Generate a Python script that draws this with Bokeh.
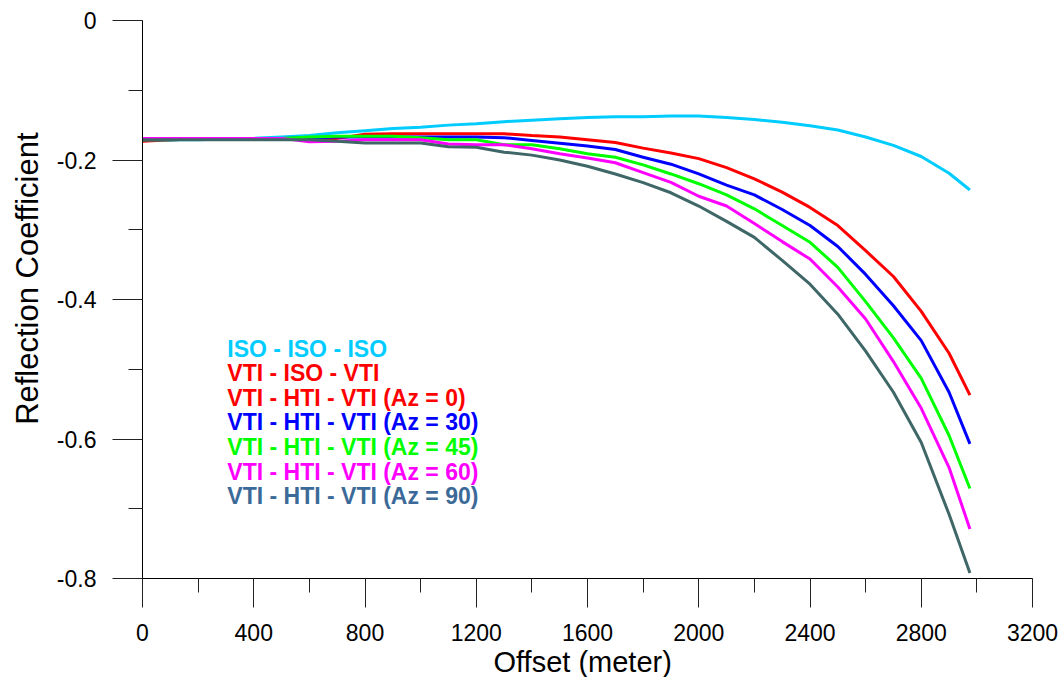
from bokeh.plotting import figure
from bokeh.models import Range1d, SingleIntervalTicker, Label, Title, CustomJSTickFormatter
from bokeh.embed import file_html
from bokeh.resources import INLINE

# ---------------- data ----------------
offset = [0, 100, 200, 300, 400, 500, 600, 700, 800, 900,
          1000, 1100, 1200, 1300, 1400, 1500, 1600, 1700, 1800, 1900,
          2000, 2100, 2200, 2300, 2400, 2500, 2600, 2700, 2800, 2900, 2975]

iso_iso_iso = [-0.171, -0.171, -0.171, -0.170, -0.169, -0.167, -0.165, -0.161, -0.158, -0.155,
               -0.153, -0.150, -0.148, -0.145, -0.143, -0.141, -0.139, -0.138, -0.138, -0.137,
               -0.137, -0.139, -0.142, -0.146, -0.151, -0.157, -0.167, -0.179, -0.195, -0.219, -0.243]

vti_iso_vti = [-0.173, -0.171, -0.170, -0.170, -0.170, -0.169, -0.169, -0.169, -0.163, -0.1625,
               -0.1625, -0.1625, -0.1625, -0.1625, -0.165, -0.167, -0.171, -0.175, -0.183, -0.190,
               -0.198, -0.211, -0.227, -0.246, -0.268, -0.294, -0.330, -0.367, -0.417, -0.477, -0.537]

az30 = [-0.171, -0.171, -0.170, -0.170, -0.170, -0.169, -0.168, -0.167, -0.167, -0.167,
        -0.167, -0.167, -0.167, -0.168, -0.172, -0.176, -0.180, -0.185, -0.196, -0.206,
        -0.220, -0.236, -0.250, -0.271, -0.294, -0.324, -0.364, -0.409, -0.459, -0.533, -0.607]

az45 = [-0.171, -0.171, -0.170, -0.170, -0.170, -0.169, -0.167, -0.166, -0.166, -0.166,
        -0.168, -0.171, -0.171, -0.178, -0.178, -0.184, -0.191, -0.196, -0.207, -0.220,
        -0.234, -0.250, -0.270, -0.294, -0.318, -0.354, -0.403, -0.455, -0.513, -0.595, -0.671]

az60 = [-0.169, -0.169, -0.169, -0.169, -0.169, -0.169, -0.174, -0.173, -0.171, -0.171,
        -0.171, -0.177, -0.178, -0.178, -0.184, -0.191, -0.197, -0.204, -0.218, -0.232,
        -0.252, -0.266, -0.291, -0.317, -0.342, -0.382, -0.428, -0.489, -0.556, -0.641, -0.729]

az90 = [-0.171, -0.171, -0.171, -0.171, -0.171, -0.171, -0.171, -0.173, -0.1755, -0.1755,
        -0.1755, -0.181, -0.1816, -0.1888, -0.193, -0.200, -0.209, -0.220, -0.2325, -0.247,
        -0.266, -0.288, -0.311, -0.344, -0.378, -0.421, -0.474, -0.533, -0.605, -0.708, -0.792]

series = [iso_iso_iso, vti_iso_vti, az30, az45, az60, az90]
series_colors = ["#00CCFF", "#FF0000", "#0000FF", "#00FF00", "#FF00FF", "#3F6767"]

legend_labels = ["ISO - ISO - ISO",
                 "VTI - ISO - VTI",
                 "VTI - HTI - VTI (Az = 0)",
                 "VTI - HTI - VTI (Az = 30)",
                 "VTI - HTI - VTI (Az = 45)",
                 "VTI - HTI - VTI (Az = 60)",
                 "VTI - HTI - VTI (Az = 90)"]
legend_colors = ["#00CCFF", "#FF0000", "#FF0000", "#0000FF", "#00FF00", "#FF00FF", "#3C6A98"]

x_ticks = [0, 400, 800, 1200, 1600, 2000, 2400, 2800, 3200]
y_ticks = [-0.8, -0.6, -0.4, -0.2, 0.0]
y_tick_labels = ["-0.8", "-0.6", "-0.4", "-0.2", "0"]

x_title = "Offset (meter)"
y_title = "Reflection Coefficient"

FONT = "Liberation Sans"

# ---------------- figure ----------------
p = figure(frame_width=890, frame_height=558,
           x_range=Range1d(0, 3200), y_range=Range1d(-0.8, 0),
           output_backend="svg", toolbar_location=None,
           min_border_left=142, min_border_right=29,
           min_border_top=20, min_border_bottom=98)
p.outline_line_color = None
p.grid.visible = False
p.background_fill_color = "white"
p.border_fill_color = "white"

p.xaxis.ticker = SingleIntervalTicker(interval=x_ticks[1] - x_ticks[0], num_minor_ticks=2)
p.yaxis.ticker = SingleIntervalTicker(interval=0.2, num_minor_ticks=2)
p.yaxis.formatter = CustomJSTickFormatter(
    args=dict(vals=y_ticks, labs=y_tick_labels),
    code="""
    for (let i = 0; i < vals.length; i++) {
        if (Math.abs(vals[i] - tick) < 1e-9) return labs[i];
    }
    return '';
    """)

for ax in (p.xaxis[0], p.yaxis[0]):
    ax.axis_line_color = "black"
    ax.axis_line_width = 1
    ax.major_tick_line_color = "#222222"
    ax.minor_tick_line_color = "#222222"
    ax.major_tick_in = 0
    ax.minor_tick_in = 0
    ax.minor_tick_out = 14
    ax.major_label_text_font = FONT
    ax.major_label_text_font_size = "23px"
    ax.major_label_text_color = "black"

p.xaxis.major_tick_out = 29
p.yaxis.major_tick_out = 30
p.xaxis.major_label_standoff = 16
p.yaxis.major_label_standoff = 16

# axis titles as side Titles (lets them sit slightly off the frame centre, as in the original)
p.add_layout(Title(text=x_title, align="left", offset=351, vertical_align="top",
                   standoff=4, text_font=FONT, text_font_size="29px",
                   text_font_style="normal", text_color="black"), "below")
p.add_layout(Title(text=y_title, align="right", offset=112, vertical_align="middle",
                   standoff=16, text_font=FONT, text_font_size="31px",
                   text_font_style="normal", text_color="black"), "left")

for ys, c in zip(series, series_colors):
    p.line(offset, ys, line_color=c, line_width=3)

# legend as coloured text
leg_x = 305
leg_y0 = -0.4703
leg_step = 0.0353
for i, (t, c) in enumerate(zip(legend_labels, legend_colors)):
    p.add_layout(Label(x=leg_x, y=leg_y0 - i * leg_step, text=t,
                       text_color=c, text_font=FONT, text_font_style="bold",
                       text_font_size="23px", text_baseline="middle",
                       text_align="left"))

open("out.html", "w").write(file_html(p, INLINE))
